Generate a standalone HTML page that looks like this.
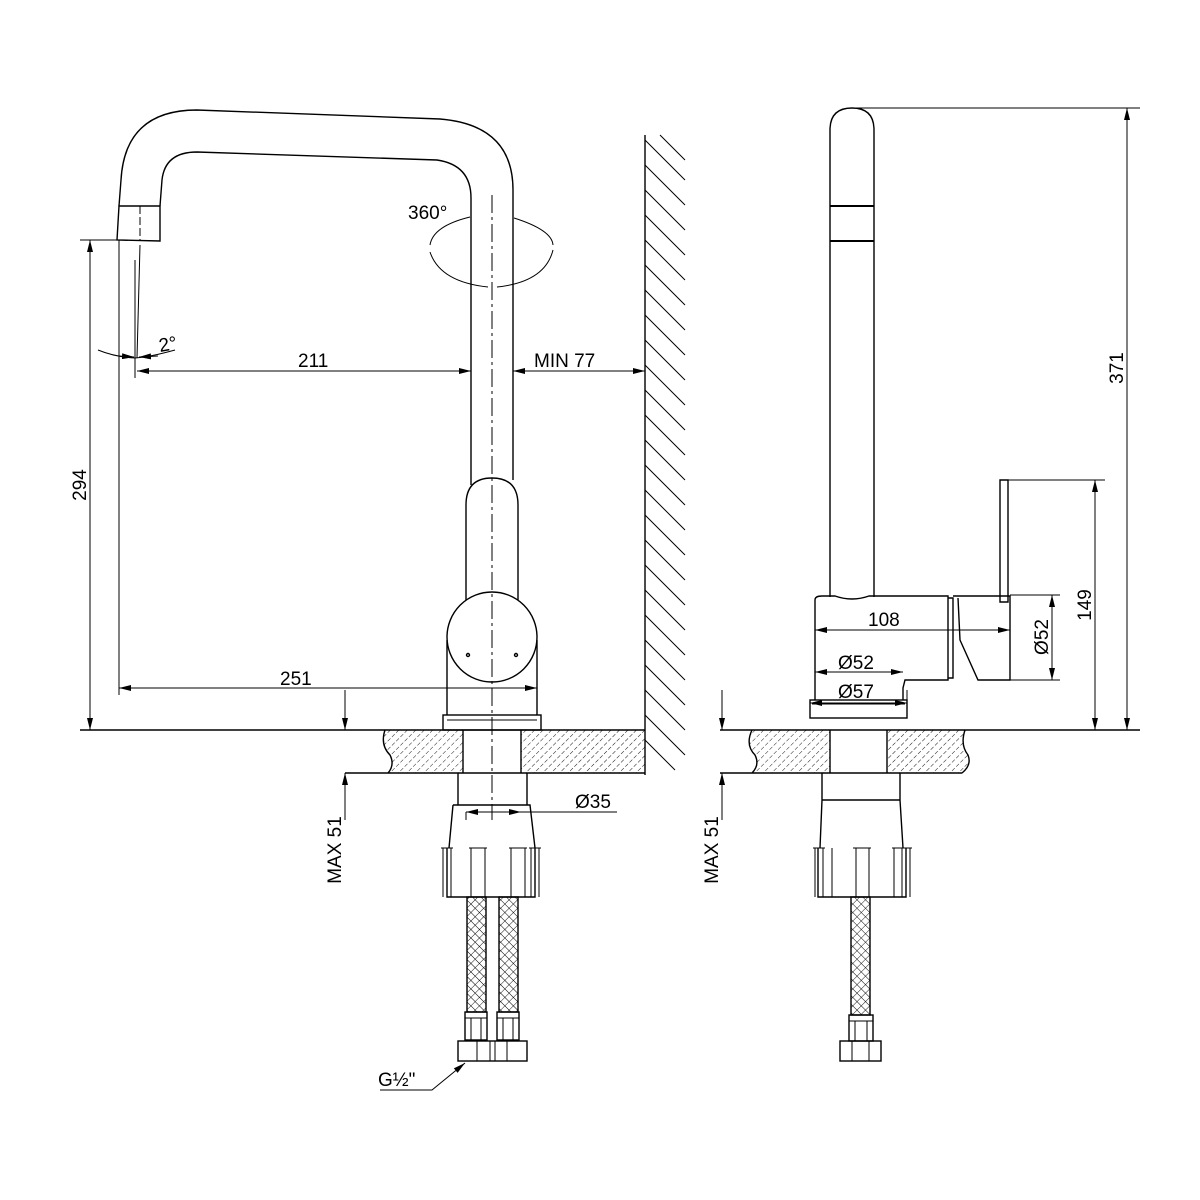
<!DOCTYPE html>
<html><head><meta charset="utf-8"><style>body{margin:0;background:#fff}svg{display:block}text{font-family:"Liberation Sans",Arial,sans-serif;font-size:19px;fill:#000}</style></head><body>
<svg width="1200" height="1200" viewBox="0 0 1200 1200" xmlns="http://www.w3.org/2000/svg">
<defs>
<marker id="a" viewBox="0 0 12 6" refX="12" refY="3" markerWidth="12" markerHeight="6" orient="auto-start-reverse" markerUnits="userSpaceOnUse"><path d="M0,0L12,3L0,6z" fill="#000"/></marker>
<pattern id="h" width="6" height="6" patternUnits="userSpaceOnUse" patternTransform="rotate(45)"><line x1="0" y1="0" x2="0" y2="6" stroke="#000" stroke-width="0.9" stroke-dasharray="4,2"/></pattern>
<pattern id="mesh" width="6" height="6" patternUnits="userSpaceOnUse" patternTransform="rotate(45)"><path d="M0,0H6M0,0V6" stroke="#000" stroke-width="0.9"/></pattern>
</defs>
<g fill="none" stroke="#000" stroke-width="1.4">
<path d="M119,206 L121,180 Q125,110 197,110 L440,119 Q513,125 513,190 L513,480"/>
<path d="M160,206 L162,180 Q165,152 197,152 L437,160 Q471,165 471,198 L471,485"/>
<path d="M119,206 L160,206 L160,241 L117,240 Z"/>
<line x1="140" y1="206" x2="140" y2="240" stroke-width="1" stroke-dasharray="8,3"/>
<path d="M466,600 L466,505 Q466,478 492,478 Q518,478 518,505 L518,600"/>
<circle cx="492" cy="637" r="45"/>
<path d="M447,640 L447,715 M537,640 L537,715"/>
<rect x="443" y="715" width="98" height="15"/>
<line x1="447" y1="720" x2="537" y2="720" stroke-width="1"/>
<circle cx="468" cy="655" r="1.5"/><circle cx="516" cy="655" r="1.5"/>
<line x1="492" y1="195" x2="492" y2="820" stroke-width="1" stroke-dasharray="18,4,3,4"/>
<path d="M470,217 Q433,226 430,245 M430,252 Q440,282 488,287 M497,287 Q545,282 553,250 M553,245 Q552,230 514,218" stroke-width="1"/>
<line x1="645" y1="135" x2="645" y2="775"/>
<g stroke-width="1">
<path d="M645,140L685,180M645,165L685,205M645,190L685,230M645,215L685,255M645,240L685,280M645,265L685,305M645,290L685,330M645,315L685,355M645,340L685,380M645,365L685,405M645,390L685,430M645,415L685,455M645,440L685,480M645,465L685,505M645,490L685,530M645,515L685,555M645,540L685,580M645,565L685,605M645,590L685,630M645,615L685,655M645,640L685,680M645,665L685,705M645,690L685,730M645,715L685,755M645,740L675,770M660,135L685,160"/>
</g>
<path d="M385,730 Q380,745 390,755 Q395,765 388,773 L463,773 L463,730 Z" fill="url(#h)" stroke="none"/>
<rect x="521" y="730" width="124" height="43" fill="url(#h)" stroke="none"/>
<path d="M80,730 L645,730 M345,773 L645,773 M385,730 Q380,745 390,755 Q395,765 388,773 M463,730 L463,773 M521,730 L521,773"/>
<path d="M458,773 L458,805 M527,773 L527,805"/>
<path d="M453,805 L530,805 L535,848 M453,805 L449,848"/>
<path d="M447,848 L447,897 L535,897 L535,848"/>
<path d="M443,848 L443,897 M451,848 L451,897 M471,848 L471,897 M485,848 L485,897 M511,848 L511,897 M525,848 L525,897 M531,848 L531,897 M539,848 L539,897" stroke-width="1"/>
<path d="M441,848h12M469,848h18M509,848h18M529,848h12" stroke-width="1"/>
<rect x="467" y="897" width="19" height="115" fill="url(#mesh)"/>
<rect x="499" y="897" width="19" height="115" fill="url(#mesh)"/>
<rect x="465" y="1012" width="22" height="28"/><rect x="497" y="1012" width="22" height="28"/>
<path d="M465,1018h22M497,1018h22M471,1018v22M481,1018v22M503,1018v22M513,1018v22" stroke-width="1"/>
<rect x="458" y="1041" width="69" height="20"/>
<path d="M477,1041v20M490,1041v20M495,1041v20M507,1041v20" stroke-width="1"/>
<g stroke-width="1">
<line x1="80" y1="240" x2="117" y2="240"/>
<line x1="90" y1="240" x2="90" y2="730" marker-start="url(#a)" marker-end="url(#a)"/>
<line x1="119" y1="240" x2="119" y2="695"/>
<line x1="135" y1="260" x2="135" y2="378"/>
<line x1="140" y1="245" x2="137" y2="358"/>
<path d="M98,350 Q115,357 135,358 Q150,357 175,350"/>
<line x1="119" y1="356" x2="134" y2="357" marker-end="url(#a)"/>
<line x1="158" y1="356" x2="139" y2="357" marker-end="url(#a)"/>
<line x1="137" y1="371" x2="471" y2="371" marker-start="url(#a)" marker-end="url(#a)"/>
<line x1="513" y1="371" x2="645" y2="371" marker-start="url(#a)" marker-end="url(#a)"/>
<line x1="119" y1="688" x2="537" y2="688" marker-start="url(#a)" marker-end="url(#a)"/>
<line x1="537" y1="688" x2="537" y2="715"/>
<line x1="345" y1="690" x2="345" y2="730" marker-end="url(#a)"/>
<line x1="345" y1="820" x2="345" y2="773" marker-end="url(#a)"/>
<line x1="466" y1="812" x2="466" y2="820"/>
<line x1="466" y1="812" x2="521" y2="812" marker-start="url(#a)" marker-end="url(#a)"/>
<line x1="521" y1="812" x2="617" y2="812"/>
<path d="M380,1090 L432,1090 L465,1063" marker-end="url(#a)"/>
</g>
<path d="M830,597 L830,130 Q830,108 852,108 Q874,108 874,130 L874,597"/>
<path d="M830,206h44M830,241h44" stroke-width="2"/>
<path d="M815,600 Q815,596 822,596 L835,596 Q852,602 869,596 L948,596 L948,680 L905,680 L903,688 L903,700 M815,600 L815,700"/>
<path d="M948,598 L953,598 L953,678 L948,678 M953,596 L1010,596 L1010,680 L978,680 L960,640 L958,598" />
<path d="M1000,480 L1008,480 L1008,602 L1000,602 Z"/>
<rect x="810" y="700" width="97" height="18"/>
<line x1="812" y1="704" x2="905" y2="704" stroke-width="1"/>
<path d="M752,730 Q745,745 755,755 Q760,765 752,773 L830,773 L830,730 Z" fill="url(#h)" stroke="none"/>
<path d="M887,730 L965,730 Q960,745 968,755 Q972,765 962,773 L887,773 Z" fill="url(#h)" stroke="none"/>
<path d="M720,730 L1140,730 M720,773 L962,773 M752,730 Q745,745 755,755 Q760,765 752,773 M965,730 Q960,745 968,755 Q972,765 962,773 M830,730 L830,773 M887,730 L887,773"/>
<path d="M822,773 L822,800 L900,800 L900,773 M822,800 L820,848 M900,800 L903,848"/>
<path d="M818,848 L818,897 L906,897 L906,848"/>
<path d="M815,848v49M823,848v49M832,848v49M856,848v49M869,848v49M894,848v49M902,848v49M910,848v49" stroke-width="1"/>
<path d="M813,848h12M853,848h18M892,848h20" stroke-width="1"/>
<rect x="851" y="897" width="19" height="118" fill="url(#mesh)"/>
<rect x="849" y="1015" width="24" height="26"/>
<path d="M849,1021h24M855,1021v20M867,1021v20" stroke-width="1"/>
<rect x="840" y="1041" width="41" height="20"/>
<path d="M852,1041v20M869,1041v20" stroke-width="1"/>
<g stroke-width="1">
<line x1="852" y1="108" x2="1140" y2="108"/>
<line x1="1127" y1="108" x2="1127" y2="730" marker-start="url(#a)" marker-end="url(#a)"/>
<line x1="1008" y1="480" x2="1105" y2="480"/>
<line x1="1095" y1="480" x2="1095" y2="730" marker-start="url(#a)" marker-end="url(#a)"/>
<line x1="1010" y1="595" x2="1060" y2="595"/><line x1="1010" y1="680" x2="1060" y2="680"/>
<line x1="1052" y1="595" x2="1052" y2="680" marker-start="url(#a)" marker-end="url(#a)"/>
<line x1="815" y1="630" x2="1010" y2="630" marker-start="url(#a)" marker-end="url(#a)"/>
<line x1="815" y1="672" x2="903" y2="672" marker-start="url(#a)" marker-end="url(#a)"/>
<line x1="810" y1="700" x2="810" y2="718"/><line x1="907" y1="690" x2="907" y2="718"/>
<line x1="810" y1="703" x2="907" y2="703" marker-start="url(#a)" marker-end="url(#a)"/>
<line x1="722" y1="690" x2="722" y2="730" marker-end="url(#a)"/>
<line x1="722" y1="820" x2="722" y2="773" marker-end="url(#a)"/>
</g>
</g>
<text x="408" y="219">360°</text>
<text x="160" y="352" transform="rotate(-10 160 352)">2°</text>
<text x="298" y="367">211</text>
<text x="534" y="367">MIN 77</text>
<text x="280" y="685">251</text>
<text x="575" y="808">Ø35</text>
<text x="378" y="1086">G½"</text>
<text transform="translate(86,485) rotate(-90)" text-anchor="middle">294</text>
<text transform="translate(341,850) rotate(-90)" text-anchor="middle">MAX 51</text>
<text transform="translate(718,850) rotate(-90)" text-anchor="middle">MAX 51</text>
<text transform="translate(1123,368) rotate(-90)" text-anchor="middle">371</text>
<text transform="translate(1091,605) rotate(-90)" text-anchor="middle">149</text>
<text transform="translate(1048,637) rotate(-90)" text-anchor="middle">Ø52</text>
<text x="868" y="626">108</text>
<text x="838" y="669">Ø52</text>
<text x="838" y="698">Ø57</text>
</svg>
</body></html>
